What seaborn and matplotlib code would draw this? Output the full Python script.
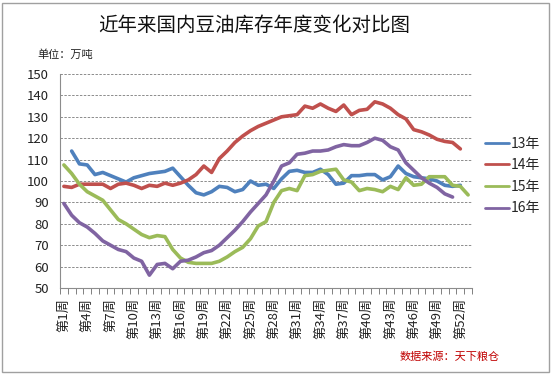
import numpy as np
import pandas as pd
import matplotlib
matplotlib.use("Agg")
import matplotlib.pyplot as plt
import seaborn as sns
from matplotlib.patches import Rectangle
from matplotlib.lines import Line2D
from matplotlib.ticker import FixedLocator, MultipleLocator

nan = np.nan
weeks = [f"第{i}周" for i in range(1, 54)]
s13 = [nan, 114, 108, 107.5, 103, 104, 102.5, 101, 99.5, 101.5, 102.5, 103.5, 104, 104.5, 106,
       102, 98, 94.5, 93.5, 95, 97.5, 97, 95, 96, 100, 98, 98.5, 96.5, 101, 104.5,
       105, 104, 104, 105.5, 103, 98.5, 99, 102.5, 102.5, 103, 103, 100.5, 102, 107, 103.5,
       102, 101.5, 101, 100, 98, 97.5, 98, nan]
s14 = [97.5, 97, 98.5, 98.5, 98.5, 98.5, 96.5, 98.5, 99, 98, 96.5, 98, 97.5, 99, 98,
       99, 100.5, 103, 107, 104, 110.5, 114, 118, 121, 123.5, 125.5, 127, 128.5, 130, 130.5,
       131, 135, 134, 136, 134, 132.5, 135.5, 131, 133, 133.5, 137, 136, 134, 131, 129,
       124, 123, 121.5, 119.5, 118.5, 118, 115, nan]
s15 = [107.5, 103.5, 98.5, 95, 93, 91, 86.5, 82, 80, 77.5, 75, 73.5, 74.5, 74, 68,
       64, 62, 61.5, 61.5, 61.5, 62.5, 64.5, 67, 69, 73, 79, 81, 90, 95.5, 96.5,
       95.5, 102.5, 103, 104.5, 105, 105.5, 100.5, 99.5, 95.5, 96.5, 96, 95, 97.5, 96, 101.5,
       98, 98.5, 102, 102, 102, 98, 97.5, 93.5]
s16 = [89.5, 84, 80.5, 78.5, 75.5, 72, 70, 68, 67, 64, 62.5, 56, 61, 61.5, 59,
       62.5, 63, 64.5, 66.5, 67.5, 70, 73.5, 77, 81, 85.5, 89.5, 93.5, 100, 107, 108.5,
       112.5, 113, 114, 114, 114.5, 116, 117, 116.5, 116.5, 118, 120, 119, 116, 114.5, 108.5,
       105, 101.5, 99, 97, 94, 92.5, nan, nan]
series_names = ["13年", "14年", "15年", "16年"]
colors = ["#4F81BD", "#C0504D", "#9BBB59", "#8064A2"]

rows = []
for name, vals in zip(series_names, [s13, s14, s15, s16]):
    for i, v in enumerate(vals):
        rows.append({"idx": i, "week": weeks[i], "value": v, "year": name})
df = pd.DataFrame(rows)

sns.set_theme(style="white")
plt.rcParams['font.family'] = ['Noto Sans CJK SC', 'DejaVu Sans']

fig = plt.figure(figsize=(5.52, 3.74), dpi=100)
ax = fig.add_axes([60/552, 1-288/374, (472-60)/552, (288-74)/374])

sns.lineplot(data=df, x="idx", y="value", hue="year", palette=colors,
             linewidth=2.6, ax=ax, legend=False)

ax.set_xlim(-0.5, len(weeks)-0.5)
ax.set_ylim(50, 150)
ax.yaxis.set_major_locator(MultipleLocator(10))
ax.grid(axis='y', linestyle=(0, (2.5, 1.5)), color='#8c8c8c', linewidth=0.7)
ax.set_axisbelow(True)

lab_idx = list(range(0, 52, 3))
ax.xaxis.set_major_locator(FixedLocator(lab_idx))
ax.set_xticklabels([weeks[i] for i in lab_idx], rotation=90, fontsize=9.5, color='#222222')
ax.tick_params(axis='x', which='major', length=0, pad=7)
ax.xaxis.set_minor_locator(FixedLocator(np.arange(-0.5, len(weeks), 1)))
ax.tick_params(axis='x', which='minor', length=4, width=0.7, color='#808080', bottom=True)
ax.tick_params(axis='y', labelsize=9.5, length=0, pad=8, labelcolor='#222222')
ax.set_xlabel("")
ax.set_ylabel("")
for sp in ['top', 'right']:
    ax.spines[sp].set_visible(False)
for sp in ['left', 'bottom']:
    ax.spines[sp].set_color('#8c8c8c')
    ax.spines[sp].set_linewidth(0.8)

handles = [Line2D([0], [0], color=c, lw=2) for c in colors]
fig.legend(handles, series_names, loc='center left', bbox_to_anchor=(485/552, 1-176/374),
           frameon=False, fontsize=10, handlelength=1.7, handletextpad=0.15,
           labelspacing=0.55, borderpad=0, borderaxespad=0)

fig.text(254/552, 1-25/374, "近年来国内豆油库存年度变化对比图", ha='center', va='center',
         fontsize=14, color='#111111')
fig.text(37/552, 1-55/374, "单位：万吨", ha='left', va='center', fontsize=8, color='#222222')
fig.text(500/552, 1-357/374, "数据来源：天下粮仓", ha='right', va='center', fontsize=8,
         color='#C00000', style='italic')

fig.patches.append(Rectangle((2/552, 2/374), 547/552, 369/374, transform=fig.transFigure,
                             fill=False, edgecolor='#a0a0a0', linewidth=1))

fig.savefig("out.png", dpi=100, facecolor='white')
